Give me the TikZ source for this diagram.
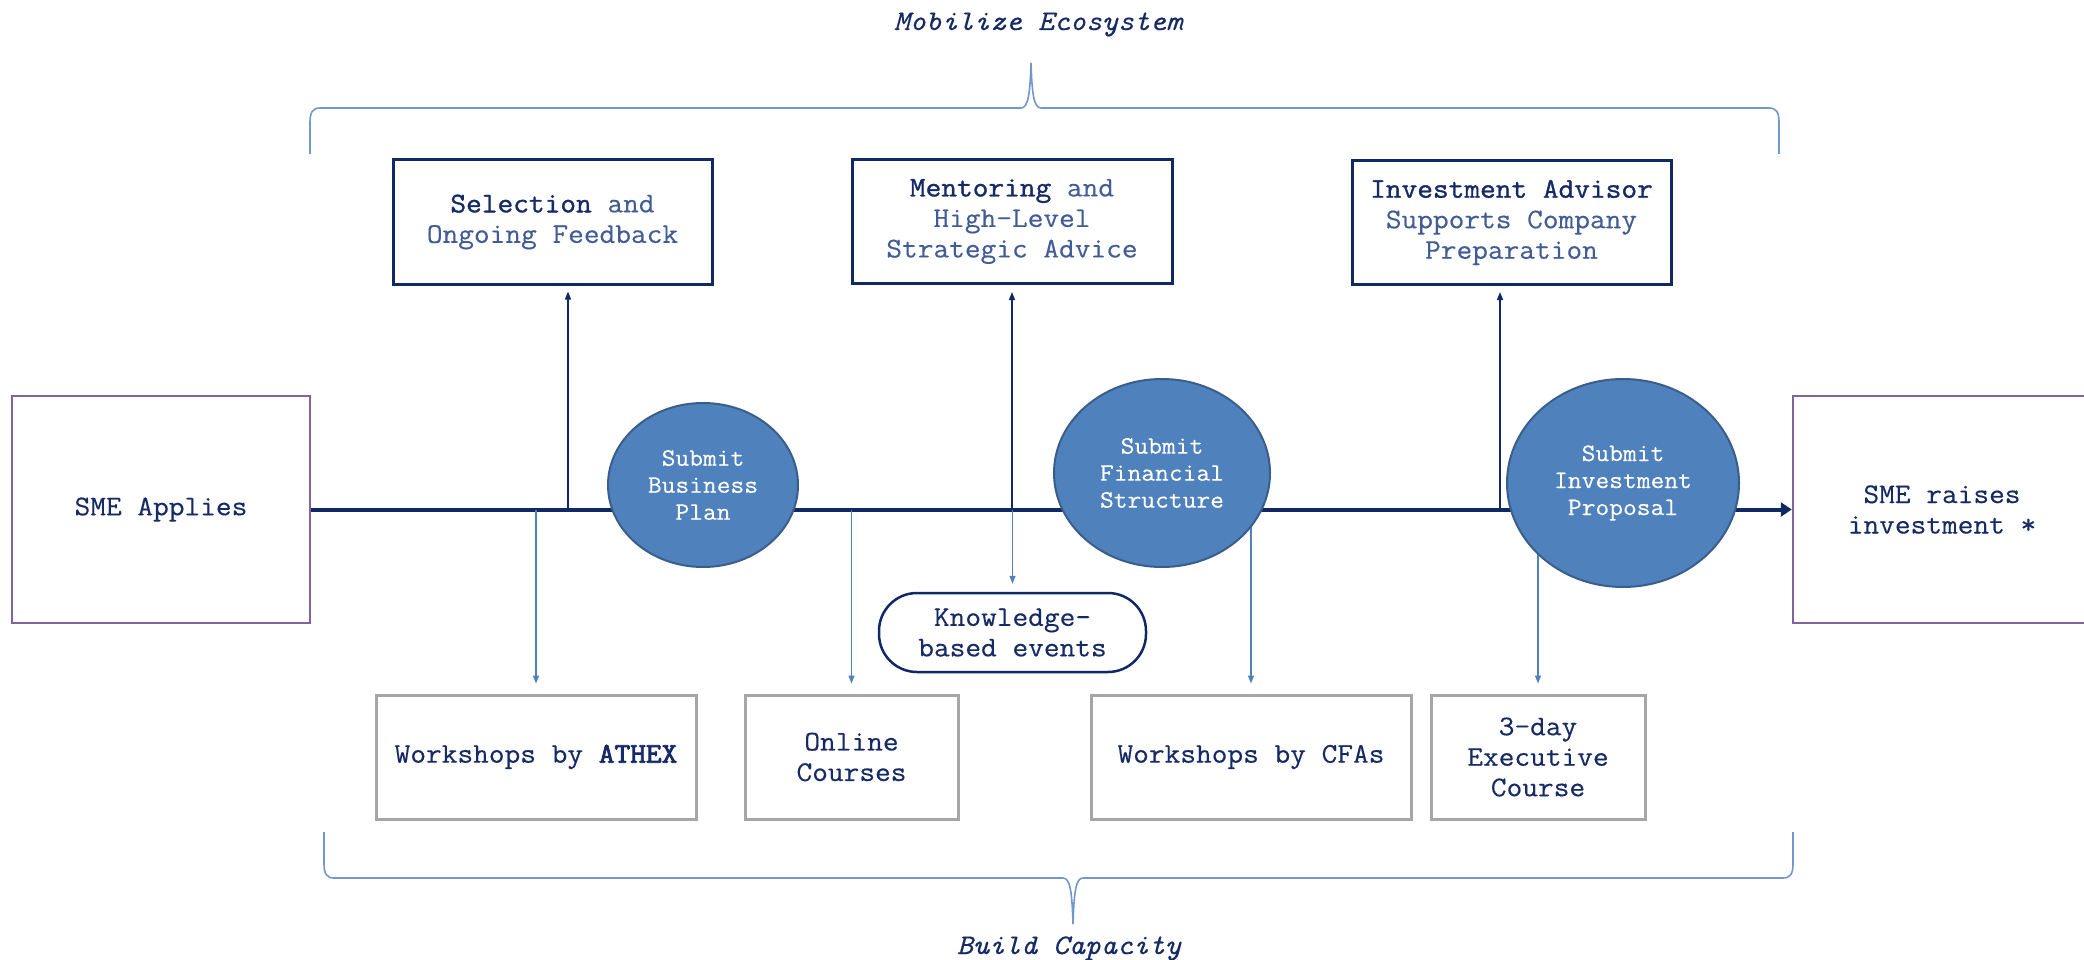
\documentclass[tikz,border=0pt]{standalone}
\usepackage{fontspec}
\setmainfont{Latin Modern Mono}[FakeStretch=1.07,FakeBold=0.35,BoldFont={Latin Modern Mono},BoldFeatures={FakeBold=2.8}]
\newfontfamily\semibold{Latin Modern Mono}[FakeStretch=1.07,FakeBold=1.2]
\usepackage{tikz}
\usetikzlibrary{shapes.geometric,calc,positioning,backgrounds,arrows.meta}
\pgfdeclarelayer{background layer}
\pgfsetlayers{background layer,main}

\definecolor{navyline}{RGB}{16,40,100}
\definecolor{txtdark}{RGB}{22,42,102}
\definecolor{txtlight}{RGB}{66,92,150}
\definecolor{ellfill}{RGB}{79,129,189}
\definecolor{elldraw}{RGB}{58,94,140}
\definecolor{purpbox}{RGB}{128,100,162}
\definecolor{graybox}{RGB}{166,166,166}
\definecolor{bracecol}{RGB}{112,152,206}
\definecolor{downcol}{RGB}{79,129,189}

\tikzset{
	topbox/.style={draw=navyline,line width=3pt,minimum width=319pt,minimum height=124pt,align=center,text=txtlight,inner sep=0pt},
	endbox/.style={draw=purpbox,line width=2.5pt,minimum width=298pt,minimum height=227pt,align=center,text=txtdark,inner sep=0pt},
	lowbox/.style={draw=graybox,line width=3pt,minimum height=124pt,align=center,text=txtdark,inner sep=0pt},
	stage/.style={ellipse,fill=ellfill,draw=elldraw,line width=2pt,text=white,align=center,inner sep=0pt,font=\fontsize{25}{27}\selectfont},
	eventbox/.style={draw=navyline,line width=2.5pt,rounded corners=38pt,minimum width=267pt,minimum height=79pt,align=center,text=txtdark,inner sep=0pt},
	mainline/.style={draw=navyline,line width=4pt,-{Triangle[length=11pt,width=14pt]}},
	uparrow/.style={draw=navyline,line width=1.3pt,-{Triangle[length=8pt,width=6pt]}},
	downarrow/.style={draw=downcol,line width=1.3pt,-{Triangle[length=8pt,width=6pt]}},
	bracket/.style={draw=bracecol,line width=1.6pt},
	phase/.style={text=txtdark,anchor=base,font=\fontsize{28.5}{30}\selectfont\itshape}
}

\begin{document}
\begin{tikzpicture}[x=1pt,y=-1pt,font=\fontsize{28.5}{30.5}\selectfont]
\useasboundingbox (0,0) rectangle (2084,960);

% start and end
\node [endbox] (sme) at (161,509.5) {SME Applies};
\node [endbox] (raise) at (1942,509.5) {SME raises\\investment *};

% ecosystem boxes
\node [topbox] (sel) at (552.5,222) {{\semibold\color{txtdark}Selection} and\\Ongoing Feedback};
\node [topbox,minimum width=320pt] (ment) at (1012,221.5) {{\semibold\color{txtdark}Mentoring} and\\High-Level\\Strategic Advice};
\node [topbox] (adv) at (1511.5,222.5) {{\semibold\color{txtdark}Investment Advisor}\\Supports Company\\Preparation};

% capacity boxes
\node [lowbox,minimum width=320pt] (wsathex) at (536,757) {Workshops by \textbf{ATHEX}};
\node [lowbox,minimum width=213pt] (online) at (851.5,757) {Online\\Courses};
\node [lowbox,minimum width=320pt] (wscfa) at (1251,757) {Workshops by CFAs};
\node [lowbox,minimum width=214pt] (exec) at (1538,757) {3-day\\Executive\\Course};
\node [eventbox] (events) at (1012.5,632.5) {Knowledge-\\based events};

% milestones
\node [stage,minimum width=190pt,minimum height=164pt] (plan) at (703,485) {Submit\\Business\\Plan};
\node [stage,minimum width=216pt,minimum height=188pt] (fin) at (1162,473) {Submit\\Financial\\Structure};
\node [stage,minimum width=232pt,minimum height=208pt] (prop) at (1623,483) {Submit\\Investment\\Proposal};

\coordinate (j1) at (568,509.5);
\coordinate (j3) at (1500,509.5);

\begin{pgfonlayer}{background layer}
\draw [mainline] (sme.east) -- (raise.west);
\draw [uparrow,shorten >=6pt] (j1) -- (j1 |- sel.south);
\draw [uparrow,shorten >=7pt] (ment.south |- sme.east) -- (ment.south);
\draw [uparrow,shorten >=6pt] (j3) -- (j3 |- adv.south);
\draw [downarrow,shorten >=8pt] (events.north |- sme.east) -- (events.north);
\foreach \b in {wsathex,online,wscfa,exec}
	\draw [downarrow,shorten >=10pt] (\b.north |- sme.east) -- (\b.north);
\end{pgfonlayer}

% brackets
\draw [bracket] (310,154) -- (310,122) .. controls (310,112) and (313,108) .. (320,108) -- (1021,108) .. controls (1028,108) and (1030,95) .. (1031,63) .. controls (1032,95) and (1034,108) .. (1041,108) -- (1769,108) .. controls (1776,108) and (1779,112) .. (1779,122) -- (1779,154);
\draw [bracket] (324,832) -- (324,864) .. controls (324,874) and (327,878) .. (334,878) -- (1063,878) .. controls (1070,878) and (1072,891) .. (1073,924) .. controls (1074,891) and (1076,878) .. (1083,878) -- (1783,878) .. controls (1790,878) and (1793,874) .. (1793,864) -- (1793,832);
\node [phase] (mobil) at (1038,30) {Mobilize Ecosystem};
\node [phase] (build) at (1069,954) {Build Capacity};
\end{tikzpicture}
\end{document}
